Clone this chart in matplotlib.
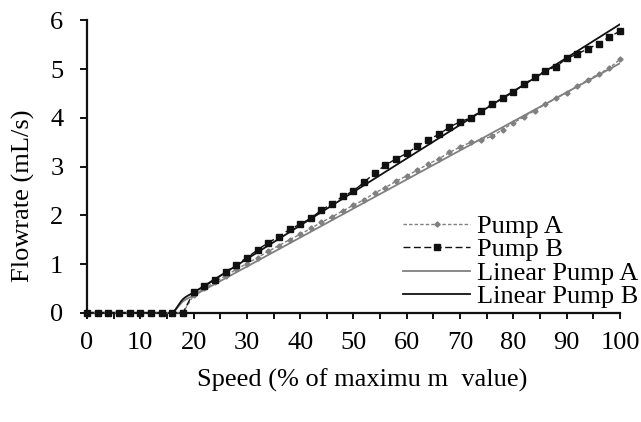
import numpy as np
import matplotlib
matplotlib.use("Agg")
import matplotlib.pyplot as plt
from matplotlib.ticker import MultipleLocator

plt.rcParams["font.family"] = ["Liberation Serif", "DejaVu Serif"]
plt.rcParams["font.size"] = 19

# Speed setpoints (% of maximum value)
speed = list(range(0, 101, 2))

# Measured flowrates (mL/s)
pump_a = [0.0] * 10 + [
    0.36, 0.50, 0.63, 0.76, 0.89, 1.01, 1.13, 1.26, 1.38, 1.50,
    1.61, 1.73, 1.86, 1.97, 2.09, 2.21, 2.32, 2.46, 2.57, 2.70,
    2.81, 2.93, 3.05, 3.16, 3.29, 3.40, 3.50, 3.55, 3.62, 3.76,
    3.90, 4.02, 4.15, 4.28, 4.40, 4.52, 4.65, 4.78, 4.90, 5.02,
    5.20,
]
pump_b = [0.0] * 10 + [
    0.42, 0.54, 0.68, 0.83, 0.99, 1.13, 1.29, 1.44, 1.56, 1.71,
    1.82, 1.94, 2.11, 2.24, 2.39, 2.50, 2.68, 2.87, 3.03, 3.16,
    3.27, 3.42, 3.55, 3.66, 3.81, 3.92, 4.00, 4.15, 4.28, 4.40,
    4.53, 4.69, 4.83, 4.97, 5.05, 5.22, 5.31, 5.42, 5.52, 5.66,
    5.78,
]

# Linear models: zero up to the threshold speed, slope/intercept above it
threshold = 16
lin_a_coef = (0.0596, -0.84)
lin_b_coef = (0.0688, -0.96)


def linear_model(coef):
    m, c = coef
    return [0.0 if s <= threshold else m * s + c for s in speed]


def smooth_curve(x, y, n=12, tension=1.0 / 6.0):
    """Cubic Bezier smoothing through every point (spreadsheet-style smoothed line)."""
    x = np.asarray(x, float)
    y = np.asarray(y, float)
    px, py = [x[0]], [y[0]]
    t = np.linspace(0, 1, n + 1)[1:]
    for i in range(len(x) - 1):
        i0 = max(i - 1, 0)
        i3 = min(i + 2, len(x) - 1)
        c1x = x[i] + (x[i + 1] - x[i0]) * tension
        c1y = y[i] + (y[i + 1] - y[i0]) * tension
        c2x = x[i + 1] - (x[i3] - x[i]) * tension
        c2y = y[i + 1] - (y[i3] - y[i]) * tension
        bx = (1 - t) ** 3 * x[i] + 3 * (1 - t) ** 2 * t * c1x + 3 * (1 - t) * t ** 2 * c2x + t ** 3 * x[i + 1]
        by = (1 - t) ** 3 * y[i] + 3 * (1 - t) ** 2 * t * c1y + 3 * (1 - t) * t ** 2 * c2y + t ** 3 * y[i + 1]
        px.extend(bx)
        py.extend(by)
    return np.array(px), np.array(py)


linear_a = linear_model(lin_a_coef)
linear_b = linear_model(lin_b_coef)

GRAY = "#808080"
BLACK = "#111111"

fig = plt.figure(figsize=(6.41, 4.22), dpi=100)
ax = fig.add_axes([0.1357, 0.2588, 0.8315, 0.6929])

la_x, la_y = smooth_curve(speed, linear_a)
lb_x, lb_y = smooth_curve(speed, linear_b)

ax.plot(speed, pump_a, color=GRAY, lw=1.0, linestyle=(0, (2.5, 1.5)),
        marker="D", ms=2.6, mfc=GRAY, mec=GRAY, label="Pump A", clip_on=False, zorder=3)
ax.plot(speed, pump_b, color=BLACK, lw=1.0, linestyle=(0, (5, 2.5)),
        marker="s", ms=5.0, mfc=BLACK, mec=BLACK, label="Pump B", clip_on=False, zorder=4)
ax.plot(la_x, la_y, color=GRAY, lw=1.3, label="Linear Pump A", zorder=2)
ax.plot(lb_x, lb_y, color=BLACK, lw=1.3, label="Linear Pump B", zorder=2)

ax.set_xlim(0, 100)
ax.set_ylim(0, 6)
ax.xaxis.set_major_locator(MultipleLocator(10))
ax.xaxis.set_minor_locator(MultipleLocator(5))
ax.yaxis.set_major_locator(MultipleLocator(1))

for side in ("top", "right"):
    ax.spines[side].set_visible(False)
for side in ("left", "bottom"):
    ax.spines[side].set_linewidth(1.6)
    ax.spines[side].set_color(BLACK)

ax.tick_params(axis="both", which="both", direction="out", width=1.4, color=BLACK)
ax.tick_params(axis="x", which="both", length=4)
ax.tick_params(axis="y", which="both", length=5)
ax.tick_params(axis="x", which="major", pad=9.5)
ax.tick_params(axis="y", which="major", pad=12)

ax.set_xlabel("Speed (% of maximu m  value)")
ax.xaxis.label.set_va("center")
ax.xaxis.set_label_coords(0.516, -0.23)
ax.set_ylabel("Flowrate (mL/s)")
ax.yaxis.label.set_va("center")
ax.yaxis.set_label_coords(-0.12, 0.40)

ax.legend(loc="center left", bbox_to_anchor=(0.593, 0.176), frameon=False,
          borderpad=0, borderaxespad=0, handlelength=2.55, handletextpad=0.27,
          labelspacing=0.0, numpoints=1, fontsize=19)

fig.savefig("out.png", dpi=100)
